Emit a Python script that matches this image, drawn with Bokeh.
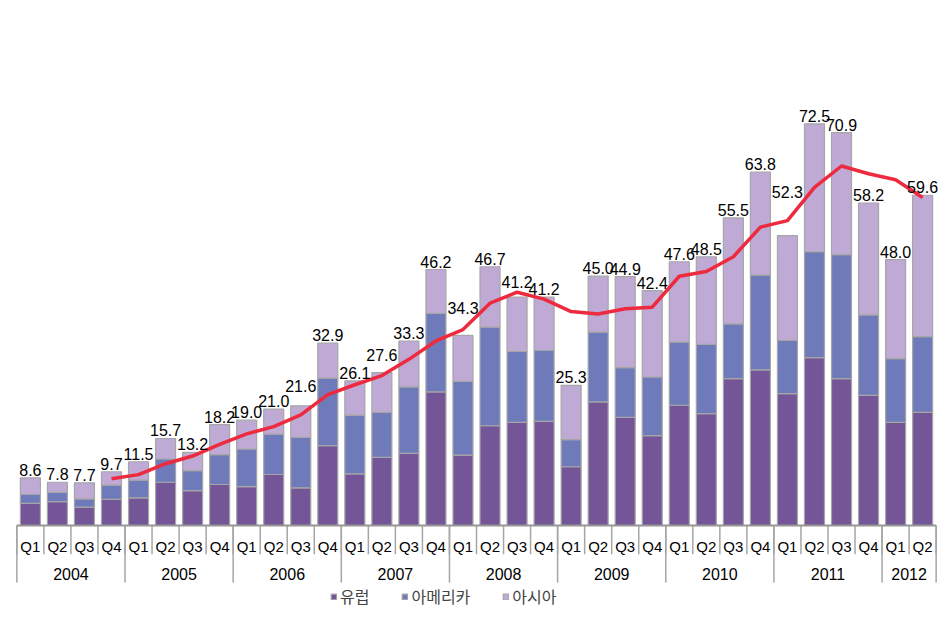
from bokeh.plotting import figure
from bokeh.models import FactorRange, Range1d, ColumnDataSource, Legend, LegendItem
from bokeh.core.properties import value
from bokeh.embed import file_html
from bokeh.resources import INLINE

# ---------------- data ----------------
year_labels = ["2004", "2005", "2006", "2007", "2008", "2009", "2010", "2011", "2012"]
quarters_per_year = [4, 4, 4, 4, 4, 4, 4, 4, 2]
quarter_names = ["Q1", "Q2", "Q3", "Q4"]

europe = [4.0, 4.3, 3.3, 4.7, 5.0, 7.8, 6.3, 7.4, 7.0, 9.2, 6.8, 14.4,
          9.3, 12.3, 13.0, 24.1, 12.7, 18.0, 18.6, 18.8, 10.6, 22.3, 19.5, 16.2,
          21.7, 20.2, 26.5, 28.1, 23.8, 30.3, 26.5, 23.5, 18.6, 20.4]
america = [1.6, 1.7, 1.5, 2.6, 3.2, 4.2, 3.6, 5.4, 6.8, 7.3, 9.1, 12.2,
           10.6, 8.1, 12.0, 14.2, 13.3, 17.8, 12.8, 12.8, 4.9, 12.6, 9.0, 10.6,
           11.4, 12.5, 9.9, 17.1, 9.6, 19.1, 22.4, 14.5, 11.5, 13.7]
asia = [3.0, 1.8, 2.9, 2.4, 3.3, 3.7, 3.3, 5.4, 5.2, 4.5, 5.7, 6.3,
        6.2, 7.2, 8.3, 7.9, 8.3, 10.9, 9.8, 9.6, 9.8, 10.1, 16.4, 15.6,
        14.5, 15.8, 19.1, 18.6, 18.9, 23.1, 22.0, 20.2, 17.9, 25.5]
totals = [8.6, 7.8, 7.7, 9.7, 11.5, 15.7, 13.2, 18.2, 19.0, 21.0, 21.6, 32.9,
          26.1, 27.6, 33.3, 46.2, 34.3, 46.7, 41.2, 41.2, 25.3, 45.0, 44.9, 42.4,
          47.6, 48.5, 55.5, 63.8, 52.3, 72.5, 70.9, 58.2, 48.0, 59.6]
# red trend line (4-quarter average), from 2004 Q4 onwards
trend = [8.45, 9.18, 11.15, 12.53, 14.65, 16.53, 17.85, 19.95, 23.63, 25.40,
         27.05, 29.98, 33.30, 35.35, 40.13, 42.10, 40.85, 38.60, 38.18, 39.10,
         39.40, 44.98, 45.85, 48.50, 53.85, 55.03, 61.03, 64.88, 63.48, 62.40, 59.18]

series_names = ["유럽", "아메리카", "아시아"]
series_colors = ["#745597", "#6f7aba", "#bfa9d5"]

# ---------------- derived categories ----------------
factors = []
for y, n in zip(year_labels, quarters_per_year):
    for q in quarter_names[:n]:
        factors.append((y, q))
quarters = [f[1] for f in factors]
n_cat = len(factors)

# category edges (left edge of every quarter, plus right edge of the last one)
edges = [(y, q, -0.5) for (y, q) in factors] + [factors[-1] + (0.5,)]
year_edges = [(y, "Q1", -0.5) for y in year_labels] + [factors[-1] + (0.5,)]

# ---------------- figure ----------------
PAD = 0.605
x_range = FactorRange(*factors, factor_padding=0, group_padding=0, subgroup_padding=0,
                      range_padding=PAD, range_padding_units="absolute")
p = figure(width=952, height=622, x_range=x_range, y_range=Range1d(-17.51, 94.75),
           x_axis_location=None, y_axis_location=None, min_border=0,
           output_backend="svg", toolbar_location=None, outline_line_color=None,
           background_fill_color="white", border_fill_color="white")
p.xgrid.grid_line_color = None
p.ygrid.grid_line_color = None

src = ColumnDataSource(dict(x=factors, europe=europe, america=america, asia=asia))
bars = p.vbar_stack(["europe", "america", "asia"], x="x", width=0.74, source=src,
                    fill_color=series_colors, line_color="#a6a6a6", line_width=1.2)

# trend line
p.line(x=factors[3:], y=trend, line_color="#ee2a3f", line_width=3.5, line_join="round")

# value labels
label_gap = -8
nudge = {10: -12, 13: -10, 16: -19, 18: -7, 28: -36}
offs = [label_gap + nudge.get(i, 0) for i in range(n_cat)]
lab_src = ColumnDataSource(dict(x=factors, y=totals, t=["%.1f" % v for v in totals], off=offs))
p.text(x="x", y="y", text="t", y_offset="off", source=lab_src, text_align="center",
       text_baseline="alphabetic", text_font=value("Liberation Sans"),
       text_font_size="16px", text_color="black")

# category axis drawn under the baseline
sep_src = ColumnDataSource(dict(x=edges))
p.segment(x0="x", y0=0, x1="x", y1=-5.2, source=sep_src,
          line_color="#a6a6a6", line_width=1.5)
ysep_src = ColumnDataSource(dict(x=year_edges))
p.segment(x0="x", y0=0, x1="x", y1=-10.3, source=ysep_src,
          line_color="#a6a6a6", line_width=1.5)
base_src = ColumnDataSource(dict(x0=[edges[0]], x1=[edges[-1]]))
p.segment(x0="x0", y0=0, x1="x1", y1=0, source=base_src,
          line_color="#969696", line_width=2)
p.text(x=factors, y=-3.75, text=quarters, text_align="center", text_baseline="middle",
       text_font=value("Liberation Sans"), text_font_size="15px", text_color="black")
p.text(x=year_labels, y=-8.8, text=year_labels, text_align="center", text_baseline="middle",
       text_font=value("Liberation Sans"), text_font_size="16px", text_color="black")

legend = Legend(items=[LegendItem(label=n, renderers=[r]) for n, r in zip(series_names, bars)],
                location=(330, 14), orientation="horizontal", padding=0, margin=0,
                spacing=32, label_standoff=3, glyph_width=7, glyph_height=7,
                label_height=18, label_text_font="Noto Sans CJK KR",
                label_text_font_size="16px", label_text_baseline="middle",
                background_fill_alpha=0, border_line_color=None)
p.add_layout(legend)

open("out.html", "w").write(file_html(p, INLINE))
